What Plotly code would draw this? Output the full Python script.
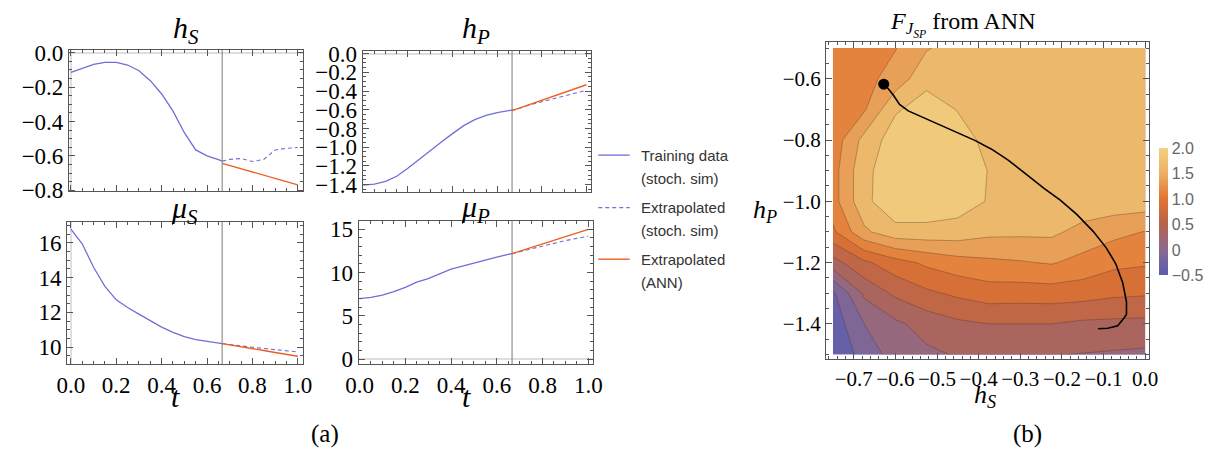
import plotly.graph_objects as go

W, H = 1219, 466

# ---- time series: training window and extrapolation ----
t_split = 2 / 3
t_train = [0.0, 0.05, 0.1, 0.15, 0.2, 0.25, 0.3, 0.35, 0.4, 0.45, 0.5, 0.55, 0.6, 0.65, 0.667]
hS_train = [-0.115, -0.09, -0.068, -0.056, -0.057, -0.072, -0.105, -0.163, -0.24, -0.34, -0.465, -0.565, -0.60, -0.622, -0.63]
hP_train = [-1.405, -1.395, -1.365, -1.31, -1.225, -1.13, -1.03, -0.945, -0.855, -0.77, -0.705, -0.66, -0.63, -0.61, -0.603]
muS_train = [16.8, 15.95, 14.6, 13.5, 12.72, 12.28, 11.9, 11.5, 11.15, 10.85, 10.6, 10.43, 10.32, 10.23, 10.2]
muP_train = [7.0, 7.15, 7.4, 7.8, 8.3, 8.9, 9.3, 9.85, 10.4, 10.75, 11.1, 11.5, 11.8, 12.1, 12.2]

t_ext = [0.667, 0.7, 0.75, 0.8, 0.85, 0.9, 0.95, 1.0]
hS_sim = [-0.63, -0.62, -0.615, -0.632, -0.62, -0.565, -0.556, -0.551]
hS_ann = [-0.643, -0.655, -0.674, -0.693, -0.712, -0.73, -0.749, -0.768]
hP_sim = [-0.604, -0.585, -0.545, -0.513, -0.485, -0.456, -0.424, -0.392]
hP_ann = [-0.61, -0.583, -0.541, -0.5, -0.458, -0.416, -0.375, -0.333]
muS_sim = [10.2, 10.14, 10.07, 9.99, 9.92, 9.85, 9.78, 9.72]
muS_ann = [10.2, 10.12, 10.02, 9.91, 9.8, 9.69, 9.58, 9.47]
muP_sim = [12.2, 12.42, 12.75, 13.08, 13.4, 13.7, 13.95, 14.2]
muP_ann = [12.2, 12.48, 12.9, 13.32, 13.74, 14.16, 14.58, 15.0]

# ---- F_JSP surface from the ANN on an (h_S, h_P) grid ----
hS_grid = [-0.75, -0.675, -0.6, -0.525, -0.45, -0.375, -0.3, -0.225, -0.15, -0.075, 0.0]
hP_grid = [-1.5, -1.4, -1.3, -1.2, -1.1, -1.0, -0.9, -0.8, -0.7, -0.6, -0.5]
F_grid = [  # rows follow hP_grid (bottom to top), columns follow hS_grid
    [-0.5, -0.14, 0.1, 0.2, 0.27, 0.3, 0.3, 0.26, 0.24, 0.22, 0.2],
    [-0.4, 0.0, 0.2, 0.35, 0.45, 0.5, 0.5, 0.5, 0.45, 0.44, 0.43],
    [-0.3, 0.3, 0.55, 0.7, 0.8, 0.88, 0.87, 0.88, 0.86, 0.8, 0.78],
    [0.4, 0.7, 0.9, 1.05, 1.15, 1.2, 1.23, 1.27, 1.17, 1.06, 1.03],
    [0.95, 1.45, 1.66, 1.66, 1.64, 1.56, 1.55, 1.55, 1.42, 1.32, 1.24],
    [1.15, 1.68, 1.95, 1.95, 1.88, 1.73, 1.68, 1.67, 1.66, 1.65, 1.64],
    [1.15, 1.68, 1.92, 1.95, 1.9, 1.74, 1.68, 1.66, 1.66, 1.66, 1.66],
    [1.1, 1.58, 1.88, 1.93, 1.84, 1.69, 1.66, 1.65, 1.65, 1.65, 1.65],
    [1.1, 1.22, 1.72, 1.86, 1.74, 1.66, 1.65, 1.65, 1.65, 1.65, 1.65],
    [1.12, 1.17, 1.35, 1.68, 1.68, 1.65, 1.65, 1.65, 1.65, 1.65, 1.65],
    [1.12, 1.17, 1.24, 1.48, 1.6, 1.62, 1.64, 1.65, 1.65, 1.65, 1.65],
]

# trajectory of (h_S, h_P) over the training window, starting at t = 2/3
traj_hS = [-0.628, -0.62, -0.605, -0.59, -0.569, -0.526, -0.487, -0.448, -0.408, -0.369, -0.33,
           -0.29, -0.243, -0.204, -0.165, -0.125, -0.094, -0.071, -0.054, -0.045, -0.045,
           -0.05, -0.066, -0.09, -0.113]
traj_hP = [-0.618, -0.628, -0.653, -0.684, -0.705, -0.731, -0.752, -0.778, -0.802, -0.83, -0.865,
           -0.907, -0.958, -0.996, -1.042, -1.098, -1.151, -1.203, -1.266, -1.328, -1.369,
           -1.379, -1.406, -1.414, -1.416]

cbar_vals = [-0.5, 0, 0.5, 1.0, 1.5, 2.0]
cbar_text = ["\u22120.5", "0", "0.5", "1.0", "1.5", "2.0"]

BLUE = "#6f6fd6"
ORANGE = "#ee5f1f"
SERIF = "Liberation Serif"
SANS = "Liberation Sans"
CSCALE = [
    [0.0, "#5a5cb0"],
    [0.2, "#8a6a8e"],
    [0.4, "#b5634f"],
    [0.6, "#e2742f"],
    [0.8, "#eaaf65"],
    [1.0, "#f3d182"],
]


def fx(p):
    return p / W


def fy(p):
    return 1 - p / H


fig = go.Figure()

panels = [
    (1, hS_train, hS_sim, hS_ann),
    (2, hP_train, hP_sim, hP_ann),
    (3, muS_train, muS_sim, muS_ann),
    (4, muP_train, muP_sim, muP_ann),
]
for k, tr, sim, ann in panels:
    xa, ya = ("x", "y") if k == 1 else (f"x{k}", f"y{k}")
    fig.add_trace(go.Scatter(x=t_train, y=tr, mode="lines", line=dict(color=BLUE, width=1.3),
                             xaxis=xa, yaxis=ya, showlegend=False, hoverinfo="skip"))
    fig.add_trace(go.Scatter(x=t_ext, y=sim, mode="lines", line=dict(color=BLUE, width=1.1, dash="4px,3px"),
                             xaxis=xa, yaxis=ya, showlegend=False, hoverinfo="skip"))
    fig.add_trace(go.Scatter(x=t_ext, y=ann, mode="lines", line=dict(color=ORANGE, width=1.4),
                             xaxis=xa, yaxis=ya, showlegend=False, hoverinfo="skip"))
    fig.add_shape(type="line", xref=xa, yref=f"{ya} domain", x0=t_split, x1=t_split, y0=0, y1=1,
                  line=dict(color="#7a7a7a", width=1))

# contour map
fig.add_trace(go.Contour(
    x=hS_grid, y=hP_grid, z=F_grid, colorscale=CSCALE, zmin=-0.5, zmax=2.0,
    contours=dict(start=-0.5, end=2.0, size=0.25, coloring="fill"),
    line=dict(color="rgba(80,50,40,0.45)", width=0.8, smoothing=0),
    showscale=False, xaxis="x5", yaxis="y5", hoverinfo="skip"))
fig.add_trace(go.Scatter(x=traj_hS, y=traj_hP, mode="lines", line=dict(color="black", width=1.6),
                         xaxis="x5", yaxis="y5", showlegend=False, hoverinfo="skip"))
fig.add_trace(go.Scatter(x=traj_hS[:1], y=traj_hP[:1], mode="markers",
                         marker=dict(color="black", size=11), xaxis="x5", yaxis="y5",
                         showlegend=False, hoverinfo="skip"))
# continuous colour legend
fig.add_trace(go.Scatter(
    x=[-5, -5], y=[-5, -5], mode="markers", xaxis="x5", yaxis="y5", showlegend=False, hoverinfo="skip",
    marker=dict(color=[-0.5, 2.0], colorscale=CSCALE, cmin=-0.5, cmax=2.0, showscale=True,
                colorbar=dict(x=fx(1167), xanchor="left", xpad=0, y=fy(212.5), yanchor="middle",
                              len=127, lenmode="pixels", thickness=9, outlinewidth=0, ypad=0,
                              tickvals=cbar_vals, ticktext=cbar_text, ticks="",
                              tickfont=dict(family=SANS, size=16, color="#666")))))

TICKFONT = dict(family=SERIF, size=23, color="black")
frame = dict(showline=True, linecolor="#555", linewidth=1, mirror="ticks", ticks="inside",
             ticklen=6, tickcolor="#555", showgrid=False, zeroline=False, tickangle=0)


def axis(dom, rng, dtick, minor, font=TICKFONT, **kw):
    d = dict(frame)
    d.update(domain=dom, range=rng, dtick=dtick, tick0=0, tickfont=font,
             minor=dict(ticks="inside", ticklen=3, tickcolor="#555", dtick=minor))
    d.update(kw)
    return d


zx = dict(zeroline=True, zerolinecolor="#dedede", zerolinewidth=2)
CFONT = dict(family=SERIF, size=21, color="black")

fig.update_layout(
    width=W, height=H, margin=dict(l=0, r=0, t=0, b=0),
    paper_bgcolor="white", plot_bgcolor="white",
    font=dict(family=SERIF, size=23, color="black"),
    xaxis=axis([fx(57), fx(295)], [-0.0087, 1.0216], 0.2, 0.05, anchor="y", showticklabels=False, **zx),
    yaxis=axis([fy(191), fy(43)], [-0.806, 0.015], 0.2, 0.05, anchor="x", tickformat=".1f", **zx),
    xaxis2=axis([fx(356), fx(589)], [-0.003, 1.022], 0.2, 0.05, anchor="y2", showticklabels=False, **zx),
    yaxis2=axis([fy(192), fy(44)], [-1.482, 0.027], 0.2, 0.05, anchor="x2", tickformat=".1f", **zx),
    xaxis3=axis([fx(55), fx(295)], [-0.017, 1.0216], 0.2, 0.05, anchor="y3", tickformat=".1f", **zx),
    yaxis3=axis([fy(372), fy(223)], [9.01, 17.21], 2, 0.5, anchor="x3"),
    xaxis4=axis([fx(352), fx(591)], [-0.004, 1.022], 0.2, 0.05, anchor="y4", tickformat=".1f", **zx),
    yaxis4=axis([fy(372), fy(222)], [-0.58, 15.96], 5, 1, anchor="x4", **zx),
    xaxis5=axis([fx(828), fx(1157)], [-0.7665, 0.0094], 0.1, 0.02, font=CFONT, anchor="y5", tickformat=".1f"),
    yaxis5=axis([fy(367), fy(35)], [-1.516, -0.4816], 0.2, 0.05, font=CFONT, anchor="x5", tickformat=".1f"),
)


def note(x, y, text, size, family=SERIF, color="black", xanchor="center"):
    fig.add_annotation(x=fx(x), y=fy(y), xref="paper", yref="paper", text=text, showarrow=False,
                       xanchor=xanchor, yanchor="middle", font=dict(family=family, size=size, color=color))


# panel titles and axis labels
note(176, 22, "<i>h</i><sub><i>S</i></sub>", 30)
note(472, 22, "<i>h</i><sub><i>P</i></sub>", 30)
note(175, 210, "<i>\u03bc</i><sub><i>S</i></sub>", 30)
note(471, 209, "<i>\u03bc</i><sub><i>P</i></sub>", 30)
note(165, 406, "<i>t</i>", 30)
note(462, 406, "<i>t</i>", 30)
note(967, 16, "<i>F</i><sub><i>J</i><sub><i>SP</i></sub></sub> from ANN", 24)
note(766, 212, "<i>h</i><sub><i>P</i></sub>", 26)
note(990, 405, "<i>h</i><sub><i>S</i></sub>", 26)
note(318, 445, "(a)", 25)
note(1033, 445, "(b)", 25)

# legend
legend_rows = [
    (153, "Training data", "(stoch. sim)", dict(color=BLUE, width=1.3)),
    (208, "Extrapolated", "(stoch. sim)", dict(color=BLUE, width=1.1, dash="4px,3px")),
    (262, "Extrapolated", "(ANN)", dict(color=ORANGE, width=1.4)),
]
for y, l1, l2, ln in legend_rows:
    fig.add_shape(type="line", xref="paper", yref="paper", x0=fx(596), x1=fx(628), y0=fy(y), y1=fy(y), line=ln)
    note(637, y, l1, 15, family=SANS, color="#333", xanchor="left")
    note(637, y + 24, l2, 15, family=SANS, color="#333", xanchor="left")

fig.write_html("out.html")
